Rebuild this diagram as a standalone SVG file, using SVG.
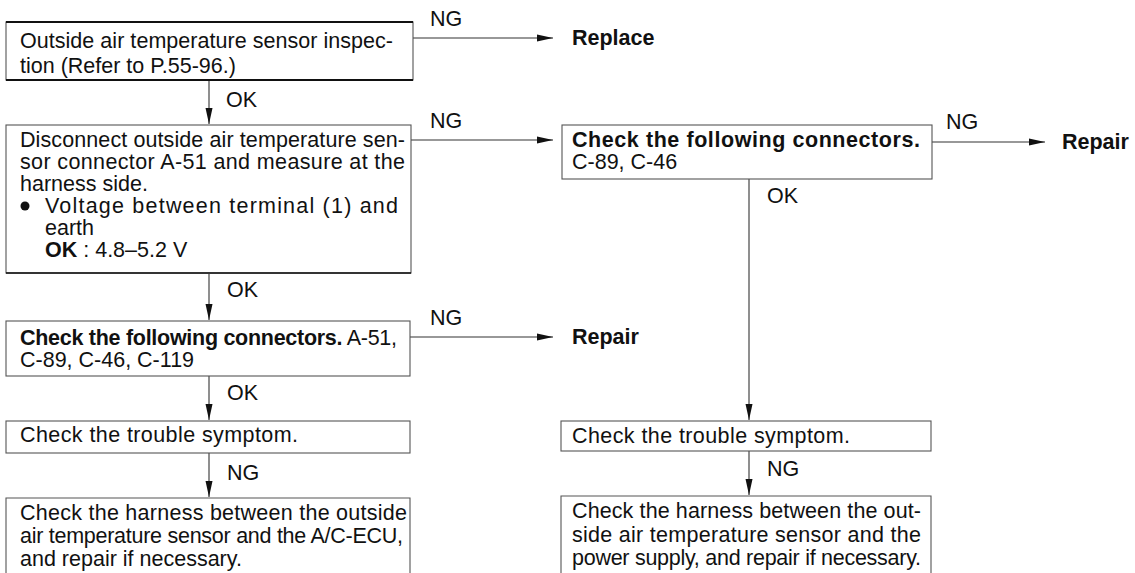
<svg xmlns="http://www.w3.org/2000/svg" width="1135" height="573" viewBox="0 0 1135 573">
  <style>
    .t { font-family: "Liberation Sans", Arial, sans-serif; font-size: 21.5px; fill: #111; }
    .b { font-weight: bold; }
    .box { fill: none; stroke: #555; stroke-width: 1.1; }
    .heavy { stroke: #111; stroke-width: 2.2; }
    .wire { fill: none; stroke: #333; stroke-width: 1.1; }
  </style>
  <defs>
    <marker id="arrow" markerUnits="userSpaceOnUse" markerWidth="17" markerHeight="9" refX="16" refY="4.5" orient="auto">
      <path d="M0,1 L16,4.5 L0,8 Z" fill="#111"/>
    </marker>
  </defs>

  <rect width="1135" height="573" fill="#fff"/>

  <!-- flow connectors -->
  <g id="connectors">
    <!-- left column, downward -->
    <line class="wire" x1="209" y1="81" x2="209" y2="124" marker-end="url(#arrow)"/>
    <text class="t" x="226" y="107">OK</text>
    <line class="wire" x1="209" y1="274" x2="209" y2="320" marker-end="url(#arrow)"/>
    <text class="t" x="227" y="297">OK</text>
    <line class="wire" x1="209" y1="376" x2="209" y2="420" marker-end="url(#arrow)"/>
    <text class="t" x="227" y="400">OK</text>
    <line class="wire" x1="209" y1="453" x2="209" y2="497" marker-end="url(#arrow)"/>
    <text class="t" x="227" y="480">NG</text>

    <!-- left column, sideways -->
    <line class="wire" x1="413" y1="38" x2="553" y2="38" marker-end="url(#arrow)"/>
    <text class="t" x="430" y="26">NG</text>
    <line class="wire" x1="411" y1="140" x2="553" y2="140" marker-end="url(#arrow)"/>
    <text class="t" x="430" y="128">NG</text>
    <line class="wire" x1="410" y1="337" x2="553" y2="337" marker-end="url(#arrow)"/>
    <text class="t" x="430" y="325">NG</text>

    <!-- right column -->
    <line class="wire" x1="932" y1="142" x2="1045" y2="142" marker-end="url(#arrow)"/>
    <text class="t" x="946" y="129">NG</text>
    <line class="wire" x1="749" y1="179" x2="749" y2="420" marker-end="url(#arrow)"/>
    <text class="t" x="767" y="203">OK</text>
    <line class="wire" x1="749" y1="451" x2="749" y2="495" marker-end="url(#arrow)"/>
    <text class="t" x="767" y="476">NG</text>
  </g>

  <!-- end results -->
  <g id="replace">
    <text class="t b" x="572" y="45">Replace</text>
  </g>
  <g id="repair-1">
    <text class="t b" x="572" y="344">Repair</text>
  </g>
  <g id="repair-2">
    <text class="t b" x="1062" y="149">Repair</text>
  </g>

  <!-- sensor inspection -->
  <g id="sensor-inspection">
    <rect class="box" x="6" y="22" width="407" height="58"/>
    <line class="heavy" x1="6" y1="22" x2="413" y2="22"/>
    <line class="heavy" x1="6" y1="80" x2="413" y2="80"/>
    <text class="t" x="20" y="48" textLength="373" lengthAdjust="spacing">Outside air temperature sensor inspec-</text>
    <text class="t" x="20" y="73">tion (Refer to P.55-96.)</text>
  </g>

  <!-- voltage measurement -->
  <g id="voltage-check">
    <rect class="box" x="6" y="125" width="405" height="148"/>
    <line class="heavy" x1="6" y1="273" x2="411" y2="273" style="stroke-width:1.6"/>
    <text class="t" x="20" y="147" textLength="385" lengthAdjust="spacing">Disconnect outside air temperature sen-</text>
    <text class="t" x="20" y="169" textLength="385" lengthAdjust="spacing">sor connector A-51 and measure at the</text>
    <text class="t" x="20" y="191">harness side.</text>
    <circle cx="25" cy="206" r="4.5" fill="#111"/>
    <text class="t" x="45" y="213" textLength="353" lengthAdjust="spacing">Voltage between terminal (1) and</text>
    <text class="t" x="45" y="235">earth</text>
    <text class="t" x="45" y="257"><tspan class="b">OK</tspan> : 4.8–5.2 V</text>
  </g>

  <!-- connector check, left -->
  <g id="connectors-left">
    <rect class="box" x="6" y="321" width="404" height="55"/>
    <text class="t" x="20" y="345" textLength="377" lengthAdjust="spacing"><tspan class="b">Check the following connectors.</tspan> A-51,</text>
    <text class="t" x="20" y="367">C-89, C-46, C-119</text>
  </g>

  <!-- trouble symptom, left -->
  <g id="symptom-left">
    <rect class="box" x="6" y="421" width="404" height="32"/>
    <text class="t" x="20" y="442" textLength="278" lengthAdjust="spacing">Check the trouble symptom.</text>
  </g>

  <!-- harness check, left -->
  <g id="harness-left">
    <path class="box" d="M6,573 V498 H410 V573"/>
    <text class="t" x="20" y="520" textLength="387" lengthAdjust="spacing">Check the harness between the outside</text>
    <text class="t" x="20" y="543" textLength="383" lengthAdjust="spacing">air temperature sensor and the A/C-ECU,</text>
    <text class="t" x="20" y="566">and repair if necessary.</text>
  </g>

  <!-- connector check, right -->
  <g id="connectors-right">
    <rect class="box" x="562" y="125" width="370" height="54"/>
    <text class="t b" x="572" y="147" textLength="348" lengthAdjust="spacing">Check the following connectors.</text>
    <text class="t" x="572" y="169">C-89, C-46</text>
  </g>

  <!-- trouble symptom, right -->
  <g id="symptom-right">
    <rect class="box" x="561" y="421" width="370" height="30"/>
    <text class="t" x="572" y="443" textLength="278" lengthAdjust="spacing">Check the trouble symptom.</text>
  </g>

  <!-- harness check, right -->
  <g id="harness-right">
    <path class="box" d="M561,573 V496 H931 V573"/>
    <text class="t" x="572" y="518" textLength="349" lengthAdjust="spacing">Check the harness between the out-</text>
    <text class="t" x="572" y="542" textLength="349" lengthAdjust="spacing">side air temperature sensor and the</text>
    <text class="t" x="572" y="565" textLength="349" lengthAdjust="spacing">power supply, and repair if necessary.</text>
  </g>
</svg>
